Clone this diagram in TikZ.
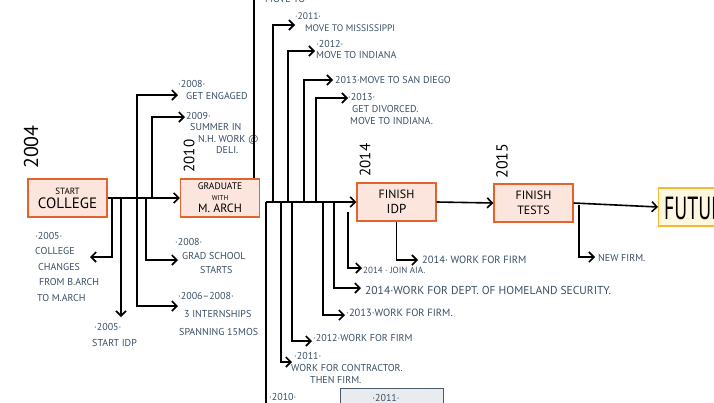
\documentclass[tikz,border=0pt]{standalone}
\usepackage{fontspec}
\setmainfont{PT Sans}
\usetikzlibrary{arrows.meta}
\definecolor{boxorange}{HTML}{E4632B}
\definecolor{boxpink}{HTML}{FBE5DC}
\definecolor{futborder}{HTML}{F7B733}
\definecolor{futfill}{HTML}{FEF7DF}
\definecolor{lblblue}{HTML}{3B4F66}
\definecolor{grayfill}{HTML}{E8ECEF}
\definecolor{grayborder}{HTML}{4B5A68}
\begin{document}
\begin{tikzpicture}[x=1pt,y=-1pt,
  conn/.style={line width=1.6pt, draw=black},
  arr/.style={conn, -{Straight Barb[length=5pt,width=10pt]}},
  stagebox/.style={draw=boxorange, fill=boxpink, line width=1.3pt, minimum width=79pt, minimum height=38pt, inner sep=0pt, align=center},
  futbox/.style={draw=futborder, fill=futfill, line width=1.3pt, minimum width=100pt, minimum height=38pt, inner sep=0pt},
  graybox/.style={draw=grayborder, fill=grayfill, line width=1.2pt, minimum width=103pt, minimum height=22pt, inner sep=0pt},
  lbl/.style={text=lblblue, font=\fontsize{10}{12}\selectfont, inner sep=0pt, align=left},
  yr/.style={rotate=90, inner sep=0pt, text=black}
]
\useasboundingbox (0,0) rectangle (714,402);
\begin{scope}
\clip (0,0) rectangle (714,402);

% stage boxes
\node[stagebox] (start) at (67.5,198) {{\fontsize{9}{9}\selectfont START}\\[2pt]{\fontsize{15}{15}\selectfont COLLEGE}};
\node[stagebox] (grad) at (220,198) {{\fontsize{9.5}{9.5}\selectfont GRADUATE}\\[-1pt]{\fontsize{7}{7}\selectfont WITH}\\[0pt]{\fontsize{12}{12}\selectfont M. ARCH}};
\node[stagebox] (idp) at (396.5,202) {{\fontsize{12}{12}\selectfont FINISH}\\[3pt]{\fontsize{13}{13}\selectfont IDP}};
\node[stagebox] (tests) at (533.5,203) {{\fontsize{12}{12}\selectfont FINISH}\\[3pt]{\fontsize{12}{12}\selectfont TESTS}};
\node[futbox, anchor=west] (future) at (658,207) {};
\node[anchor=west, inner sep=0pt] (futtext) at (664,208) {\scalebox{0.62}[1]{\fontsize{32}{32}\selectfont FUTURE}};
\node[graybox, anchor=north west] (gbox) at (340,388) {};
\node[lbl, anchor=center] (gtext) at (386,398) {·2011·};

% years
\node[yr, font=\fontsize{20}{20}\selectfont] (y2004) at (31,147) {2004};
\node[yr, font=\fontsize{15}{15}\selectfont] (y2010) at (189,156) {2010};
\node[yr, font=\fontsize{15}{15}\selectfont] (y2014) at (365,160) {2014};
\node[yr, font=\fontsize{16}{16}\selectfont] (y2015) at (502,161) {2015};

% main connectors
\draw[arr] (start.east) -- (grad.west);
\draw[arr] (idp.east) -- (tests.west);
\draw[arr] (tests.east) -- (future.west);

% hub 1
\coordinate (b1) at (112,198); \coordinate (t1) at (90,257);
\coordinate (b2) at (121,198); \coordinate (t2) at (121,317);
\coordinate (b3) at (137,198); \coordinate (t3a) at (178,95); \coordinate (t3b) at (178,306);
\coordinate (b4) at (146,198); \coordinate (t4) at (178,260);
\coordinate (b5) at (152,198); \coordinate (t5) at (185,117);
\draw[arr] (b1) |- (t1);
\draw[arr] (b2) -- (t2);
\draw[arr] (b3) |- (t3a);
\draw[arr] (b3) |- (t3b);
\draw[arr] (b4) |- (t4);
\draw[arr] (b5) |- (t5);

\node[lbl, anchor=north west] (l2008e) at (178,80) {·2008·\\[0pt]\hspace*{8pt}GET ENGAGED};
\node[lbl, anchor=north west, font=\fontsize{10}{11.5}\selectfont] (l2009) at (186,112) {2009·\\\hspace*{4pt}SUMMER IN\\\hspace*{12pt}N.H. WORK @\\\hspace*{30pt}DELI.};
\node[lbl, anchor=north west, font=\fontsize{10}{15.5}\selectfont] (l2005c) at (35,232) {·2005·\\COLLEGE\\\hspace*{3pt}CHANGES\\\hspace*{4pt}FROM B.ARCH\\\hspace*{2pt}TO M.ARCH};
\node[lbl, anchor=north west, font=\fontsize{10}{16}\selectfont] (l2005i) at (92,323) {\hspace*{2pt}·2005·\\START IDP};
\node[lbl, anchor=north west, font=\fontsize{10}{14}\selectfont] (l2008g) at (175,238) {·2008·\\\hspace*{7pt}GRAD SCHOOL\\\hspace*{25pt}STARTS};
\node[lbl, anchor=north west, font=\fontsize{10}{18}\selectfont] (l2006) at (178,292) {·2006--2008·\\\hspace*{6pt}3 INTERNSHIPS\\\hspace*{1pt}SPANNING 15MOS};

% top line to graduate box
\coordinate (topA) at (254,-5);
\draw[conn] (topA) -- (topA |- grad.north);
\node[lbl, anchor=base west] (topcut) at (265,2) {MOVE TO};

% hub 2
\coordinate (h2) at (266,202);
\coordinate (hbot) at (266,410);
\draw[arr] (h2) -- (idp.west);
\draw[conn] (h2) -- (hbot);
\coordinate (u1) at (273,202); \coordinate (ut1) at (295,25);
\coordinate (u2) at (288,202); \coordinate (ut2) at (315,51);
\coordinate (u3) at (304,202); \coordinate (ut3) at (333,80);
\coordinate (u4) at (316,202); \coordinate (ut4) at (348,98);
\draw[arr] (u1) |- (ut1);
\draw[arr] (u2) |- (ut2);
\draw[arr] (u3) |- (ut3);
\draw[arr] (u4) |- (ut4);
\coordinate (d1) at (281,202); \coordinate (dt1) at (292,362);
\coordinate (d2) at (292,202); \coordinate (dt2) at (312,341);
\coordinate (d3) at (323,202); \coordinate (dt3) at (345,315);
\coordinate (d4) at (334,202); \coordinate (dt4) at (361,288);
\coordinate (d5) at (348,212); \coordinate (dt5) at (362,268);
\draw[arr] (d1) |- (dt1);
\draw[arr] (d2) |- (dt2);
\draw[arr] (d3) |- (dt3);
\draw[arr] (d4) |- (dt4);
\draw[arr] (d5) |- (dt5);

\node[lbl, anchor=north west, font=\fontsize{9.5}{12}\selectfont] (l2011m) at (295,13) {·2011·\\\hspace*{10pt}MOVE TO MISSISSIPPI};
\node[lbl, anchor=north west, font=\fontsize{10}{11.5}\selectfont] (l2012m) at (316,40) {·2012·\\MOVE TO INDIANA};
\node[lbl, anchor=west] (l2013m) at (335,80) {2013·MOVE TO SAN DIEGO};
\node[lbl, anchor=north west, font=\fontsize{10}{12}\selectfont] (l2013d) at (348,93) {·2013·\\\hspace*{4pt}GET DIVORCED.\\\hspace*{2pt}MOVE TO INDIANA.};
\node[lbl, anchor=north west, font=\fontsize{10}{12}\selectfont] (l2011w) at (291,352) {\hspace*{3pt}·2011·\\WORK FOR CONTRACTOR.\\\hspace*{19pt}THEN FIRM.};
\node[lbl, anchor=west] (l2012w) at (313,338) {·2012·WORK FOR FIRM};
\node[lbl, anchor=west, font=\fontsize{10.5}{12}\selectfont] (l2013w) at (346,313) {·2013·WORK FOR FIRM.};
\node[lbl, anchor=west, font=\fontsize{11.5}{12}\selectfont] (l2014h) at (365,290) {2014·WORK FOR DEPT. OF HOMELAND SECURITY.};
\node[lbl, anchor=west, font=\fontsize{9}{12}\selectfont] (l2014a) at (363,270) {2014 · JOIN AIA.};
\node[lbl, anchor=west] (l2010) at (269,397) {·2010·};

% idp branch
\coordinate (it) at (418,260);
\draw[arr] (idp.south) |- (it);
\node[lbl, anchor=west, font=\fontsize{10.5}{12}\selectfont] (l2014f) at (422,260) {2014· WORK FOR FIRM};

% tests branch
\coordinate (tb) at (579,205); \coordinate (tt) at (595,257);
\draw[arr] (tb) |- (tt);
\node[lbl, anchor=west] (lnew) at (598,258) {NEW FIRM.};
\end{scope}
\end{tikzpicture}
\end{document}
